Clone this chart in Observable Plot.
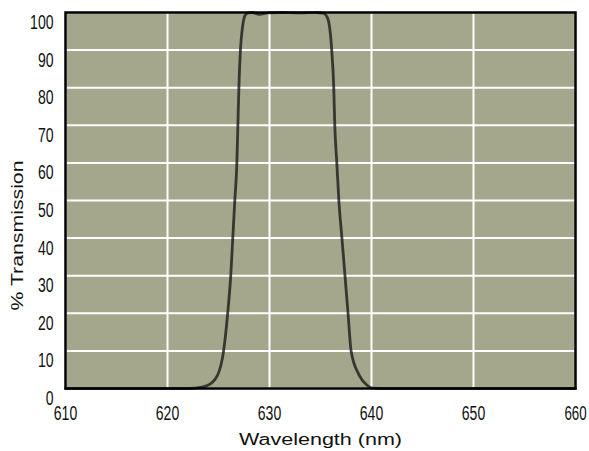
<!DOCTYPE html>
<html>
<head>
<meta charset="utf-8">
<script src="https://cdn.jsdelivr.net/npm/d3@7"></script>
<script src="https://cdn.jsdelivr.net/npm/@observablehq/plot@0.6"></script>
<style>
  html, body { margin: 0; padding: 0; background: #ffffff; }
  #chart svg { display: block; }
</style>
</head>
<body>
<div id="chart"></div>
<script>
// Filter transmission curve
const wavelengths = [610, 615, 620, 622.0, 622.7, 623.9, 624.9, 625.5, 625.9, 626.2, 626.4, 626.6, 626.8, 626.9, 627.0, 627.15, 627.35, 627.6, 627.9, 628.3, 629.0, 629.8, 631.0, 633.0, 634.6, 635.3, 635.7, 636.1, 636.3, 636.4, 636.6, 636.8, 637.1, 637.4, 637.7, 638.0, 638.8, 639.6, 640.1, 641, 645, 650, 655, 660];
const transmission = [0, 0, 0, 0, 0.1, 0.8, 3.5, 10, 20, 30, 40, 50, 60, 70, 80, 90, 96, 99.2, 99.9, 100.0, 99.5, 99.9, 100.0, 99.9, 100.0, 99.8, 98.5, 90, 80, 70, 60, 50, 40, 30, 20, 10, 3.5, 0.8, 0.1, 0, 0, 0, 0, 0];
const xTicks = [610, 620, 630, 640, 650, 660];
const yTicks = [0, 10, 20, 30, 40, 50, 60, 70, 80, 90, 100];
const xTitle = "Wavelength (nm)";
const yTitle = "% Transmission";

const curve = wavelengths.map((w, i) => ({w, t: transmission[i]}));
const tickFont = "'Liberation Sans Narrow', 'Liberation Sans', Arial, sans-serif";

const plot = Plot.plot({
  width: 589,
  height: 451,
  marginLeft: 65,
  marginRight: 14,
  marginTop: 12,
  marginBottom: 63,
  style: {background: "#ffffff", fontFamily: "'Liberation Sans', Arial, sans-serif"},
  x: {domain: [610, 660], axis: null},
  y: {domain: [0, 100], axis: null},
  marks: [
    Plot.frame({fill: "#a4a78b", stroke: "none"}),
    Plot.ruleX(xTicks, {stroke: "#ffffff", strokeWidth: 2}),
    Plot.ruleY(yTicks, {stroke: "#ffffff", strokeWidth: 2}),
    Plot.line(curve, {x: "w", y: "t", curve: "monotone-x", stroke: "#1e1e1e", strokeWidth: 2.8, strokeOpacity: 0.82}),
    Plot.frame({stroke: "#000000", strokeWidth: 2.5}),
    Plot.text(yTicks, {x: 610, y: d => d, text: d => String(d), dx: -12, dy: 10, textAnchor: "end", fontSize: 20, fontFamily: tickFont, fill: "#111"}),
    Plot.text(xTicks, {x: d => d, y: 0, text: d => String(d), dy: 25, fontSize: 20, fontFamily: tickFont, fill: "#111"}),
    Plot.text([xTitle], {frameAnchor: "bottom", text: d => d, dy: 56, fontSize: 16, fill: "#111"}),
    Plot.text([yTitle], {frameAnchor: "left", text: d => d, dx: -48, dy: 110, rotate: -90, fontSize: 17, fill: "#111"})
  ]
});

// condense/stretch glyphs to match the original lettering
plot.querySelectorAll("text").forEach(t => {
  const s = t.textContent;
  let len = null;
  if (/^\d+$/.test(s)) len = s.length * (s === "660" ? 7.4 : 7.8);
  else if (s === xTitle) len = 163;
  else if (s === yTitle) len = 150;
  if (len) {
    t.setAttribute("textLength", len);
    t.setAttribute("lengthAdjust", "spacingAndGlyphs");
  }
});

document.getElementById("chart").appendChild(plot);
</script>
</body>
</html>
